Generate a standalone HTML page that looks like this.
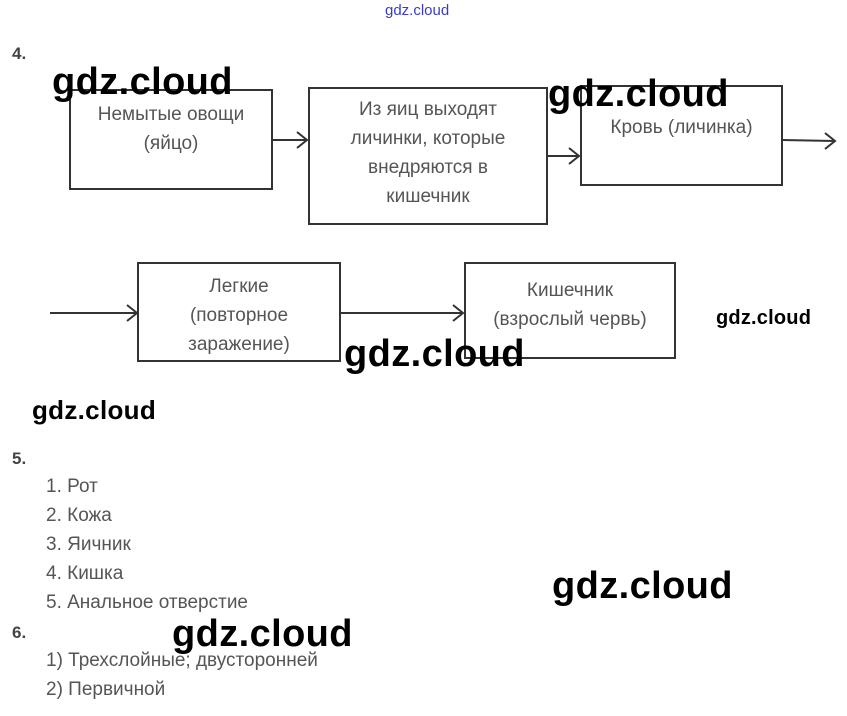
<!DOCTYPE html>
<html><head><meta charset="utf-8"><style>
body{margin:0;width:847px;height:716px;background:#fff;position:relative;overflow:hidden;font-family:"Liberation Sans",sans-serif}
.t{position:absolute;color:#555;font-size:19px;line-height:29px;white-space:nowrap}
.c{text-align:center}
.w{position:absolute;font-weight:bold;color:#000;font-size:38px;line-height:40px;white-space:nowrap;font-family:"Liberation Sans",sans-serif;letter-spacing:0.4px}
.n{position:absolute;font-weight:bold;color:#444;font-size:17px}
</style></head><body>
<svg width="847" height="716" style="position:absolute;left:0;top:0">
<g fill="none" stroke="#333" stroke-width="2">
<rect x="70" y="90" width="202" height="99"/>
<rect x="309" y="88" width="238" height="136"/>
<rect x="581" y="86" width="201" height="99"/>
<rect x="138" y="263" width="202" height="98"/>
<rect x="465" y="263" width="210" height="95"/>
<path d="M272 140H307M297 132L307 140L297 148"/>
<path d="M547 156H579M569 148L579 156L569 164"/>
<path d="M782 140L835 141M825 133L835 141L825 149"/>
<path d="M50 313H137M127 305L137 313L127 321"/>
<path d="M340 313H463M453 305L463 313L453 321"/>
</g></svg>
<div style="position:absolute;left:385px;top:2px;color:#3a3ad0;font-size:15px">gdz.cloud</div>
<div class="n" style="left:12px;top:44px">4.</div>
<div class="t c" style="left:70px;width:202px;top:100px">Немытые овощи<br>(яйцо)</div>
<div class="t c" style="left:309px;width:238px;top:95px">Из яиц выходят<br>личинки, которые<br>внедряются в<br>кишечник</div>
<div class="t c" style="left:581px;width:201px;top:113px">Кровь (личинка)</div>
<div class="t c" style="left:138px;width:202px;top:272px">Легкие<br>(повторное<br>заражение)</div>
<div class="t c" style="left:465px;width:210px;top:276px">Кишечник<br>(взрослый червь)</div>
<div class="n" style="left:12px;top:449px">5.</div>
<div class="t" style="left:46px;top:472px">1. Рот<br>2. Кожа<br>3. Яичник<br>4. Кишка<br>5. Анальное отверстие</div>
<div class="n" style="left:12px;top:623px">6.</div>
<div class="t" style="left:46px;top:646px">1) Трехслойные; двусторонней<br>2) Первичной</div>
<div class="w" style="left:52px;top:62px">gdz.cloud</div>
<div class="w" style="left:548px;top:74px">gdz.cloud</div>
<div class="w" style="left:344px;top:334px">gdz.cloud</div>
<div class="w" style="left:552px;top:566px">gdz.cloud</div>
<div class="w" style="left:172px;top:614px">gdz.cloud</div>
<div class="w" style="left:32px;top:390px;font-size:26px;letter-spacing:0.3px">gdz.cloud</div>
<div class="w" style="left:716px;top:306px;font-size:20px;line-height:24px;letter-spacing:0.2px">gdz.cloud</div>
</body></html>
